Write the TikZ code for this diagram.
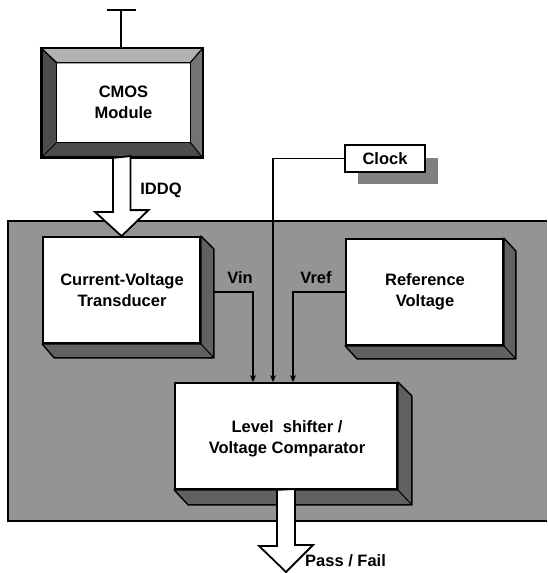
\documentclass[tikz,border=0pt]{standalone}
\usepackage{fontspec}
\setmainfont{Liberation Sans}
\usetikzlibrary{arrows.meta,calc}
\tikzset{
  txt/.style={font=\bfseries\fontsize{16.5}{21.5}\selectfont, align=center, inner sep=0pt},
  box/.style={draw=black, line width=1.8pt, fill=white, inner sep=0pt},
  bevel/.style={fill=black!62, draw=black, line width=1.4pt, line join=round},
  bevellight/.style={fill=black!30, draw=black, line width=1.2pt},
  panel/.style={fill=black!42},
  wire/.style={draw=black, line width=1.6pt},
  wirearr/.style={draw=black, line width=1.6pt, -{Stealth[length=7pt,width=6pt]}},
  bigarrow/.style={draw=black, line width=1.8pt, fill=white, line join=miter},
  shadow/.style={fill=black!50}
}
\begin{document}
\begin{tikzpicture}[x=1pt,y=-1pt]
\useasboundingbox (0,0) rectangle (547,573);
% gray panel
\fill[panel] (8,221) rectangle (547,521);
\draw[line width=2pt] (547,221) -- (8,221) -- (8,521) -- (547,521);

% CMOS module (framed)
\node[draw=black, line width=1.8pt, fill=black!70, minimum width=160pt, minimum height=108pt, inner sep=0pt] (cmo) at (122,103) {};
\node[draw=none, fill=white, minimum width=133pt, minimum height=79pt, inner sep=0pt] (cm) at (123.5,102.5) {};
\fill[bevellight] (cmo.north west) -- (cmo.north east) -- (cm.north east) -- (cm.north west) -- cycle;
\fill[black!55] (cmo.north east) -- (cmo.south east) -- (cm.south east) -- (cm.north east) -- cycle;
\draw[line width=1.8pt] (cmo.north west) rectangle (cmo.south east);
\draw[line width=1pt] (cm.north west) rectangle (cm.south east);
\draw[line width=1pt] (cmo.north west) -- (cm.north west) (cmo.north east) -- (cm.north east)
  (cmo.south west) -- (cm.south west) (cmo.south east) -- (cm.south east);
\node[txt] (cmt) at (cm.center) {CMOS\\Module};
% antenna T
\coordinate (ant) at (121,10);
\coordinate (antL) at (107,10);
\coordinate (antR) at (136,10);
\draw[line width=1.8pt] (cmo.north -| ant) -- (ant);
\draw[line width=2pt] (antL) -- (antR);

% Clock
\fill[shadow] (358,158) rectangle (438,184);
\node[box, minimum width=80pt, minimum height=27pt] (ck) at (385,158.5) {};
\node[txt] (ckt) at (ck.center) {Clock};

% Current-Voltage Transducer
\node[box, minimum width=157pt, minimum height=106pt] (t) at (121.5,290) {};
\draw[bevel] (t.north east) -- ++(13,13) -- ($(t.south east)+(13,14)$) -- ($(t.south west)+(12,14)$) -- (t.south west) -- (t.south east) -- cycle;
\draw[line width=1pt] (t.south east) -- ++(13,14);
\node[txt] (tt) at (122,290) {Current-Voltage\\Transducer};

% Reference Voltage
\node[box, minimum width=157pt, minimum height=106pt] (r) at (424.5,292) {};
\draw[bevel] (r.north east) -- ++(12,13) -- ($(r.south east)+(12,13)$) -- ($(r.south west)+(12,13)$) -- (r.south west) -- (r.south east) -- cycle;
\draw[line width=1pt] (r.south east) -- ++(12,13);
\node[txt] (rt) at (425,292) {Reference\\Voltage};

% Comparator
\node[box, minimum width=222pt, minimum height=106pt] (c) at (286,436) {};
\draw[bevel] (c.north east) -- ++(14,14) -- ($(c.south east)+(14,15)$) -- ($(c.south west)+(14,15)$) -- (c.south west) -- (c.south east) -- cycle;
\draw[line width=1pt] (c.south east) -- ++(14,15);
\node[txt] (ct) at (287,439) {Level\ \ shifter /\\Voltage Comparator};

% wires
\coordinate (vinS) at ([xshift=13pt,yshift=-2pt]t.east);
\draw[wirearr] (vinS) -| ([xshift=-33pt]c.north);
\draw[wirearr] (ck.west) -| ([xshift=-13pt]c.north);
\draw[wirearr] (r.west |- vinS) -| ([xshift=7pt]c.north);
\node[txt] (vin) at (240,278) {Vin};
\node[txt] (vref) at (316,278) {Vref};

% IDDQ arrow
\draw[bigarrow] ([xshift=-9pt]cmo.south) -- ++(0,54) -- ++(-18,0) -- (t.north) -- ++(27,-26) -- ++(-18,0) -- ++(0,-54) -- cycle;
\node[txt] (iddq) at (161,190) {IDDQ};

% Pass/Fail arrow
\coordinate (pf) at (286,572);
\draw[bigarrow] ([xshift=-9pt]c.south) -- ++(0,56) -- ++(-18,0) -- (pf) -- ++(27,-27) -- ++(-18,0) -- ++(0,-56) -- cycle;
\node[txt, anchor=west] (pft) at (305,561) {Pass / Fail};
\end{tikzpicture}
\end{document}
